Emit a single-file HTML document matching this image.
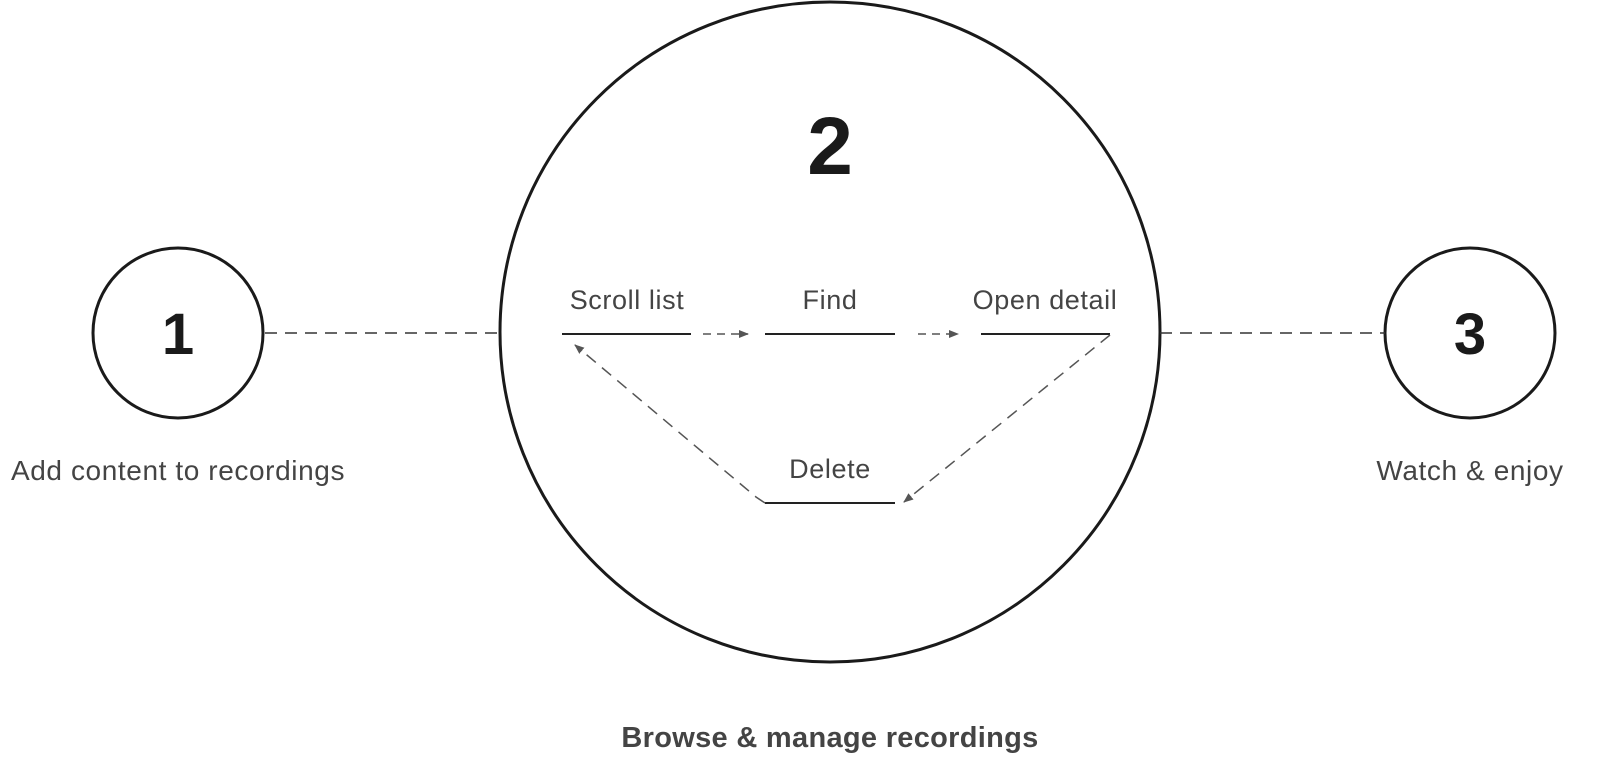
<!DOCTYPE html>
<html><head><style>
body{margin:0;background:#fff;}
svg{display:block;font-family:"Liberation Sans","DejaVu Sans",sans-serif;}
</style></head><body>
<svg width="1600" height="770" viewBox="0 0 1600 770">
<defs><marker id="a" markerWidth="10" markerHeight="8" refX="9" refY="4" orient="auto" markerUnits="userSpaceOnUse"><path d="M0,0 L10,4 L0,8 z" fill="#555"/></marker></defs>
<g fill="none" stroke="#1a1a1a" stroke-width="3">
<circle cx="178" cy="333" r="85"/>
<circle cx="830" cy="332" r="330"/>
<circle cx="1470" cy="333" r="85"/>
</g>
<g stroke="#333" stroke-width="1.5" stroke-dasharray="12,8" fill="none">
<line x1="265" y1="333" x2="500" y2="333"/>
<line x1="1160" y1="333" x2="1385" y2="333"/>
</g>
<g stroke="#222" stroke-width="2">
<line x1="562" y1="334" x2="691" y2="334"/>
<line x1="765" y1="334" x2="895" y2="334"/>
<line x1="981" y1="334" x2="1110" y2="334"/>
<line x1="765" y1="503" x2="895" y2="503"/>
</g>
<g stroke="#555" stroke-width="1.5" stroke-dasharray="12,8" fill="none">
<line x1="703" y1="334" x2="748" y2="334" stroke-dasharray="8,6" marker-end="url(#a)"/>
<line x1="918" y1="334" x2="958" y2="334" stroke-dasharray="8,6" marker-end="url(#a)"/>
<line x1="1110" y1="335" x2="904" y2="502" marker-end="url(#a)"/>
<polyline points="765,503 756,497 575,345" marker-end="url(#a)"/>
</g>
<g fill="#444" font-size="27" letter-spacing="0.6" text-anchor="middle">
<text x="627" y="309">Scroll list</text>
<text x="830" y="309">Find</text>
<text x="1045" y="309">Open detail</text>
<text x="830" y="478">Delete</text>
<text x="178" y="480" font-size="28">Add content to recordings</text>
<text x="1470" y="480" font-size="28">Watch &amp; enjoy</text>
<text x="830" y="747" font-weight="bold" font-size="29" letter-spacing="0.3">Browse &amp; manage recordings</text>
</g>
<g fill="#1a1a1a" font-weight="bold" text-anchor="middle">
<text x="178" y="354" font-size="58">1</text>
<text x="830" y="174" font-size="82">2</text>
<text x="1470" y="354" font-size="58">3</text>
</g>
</svg>
</body></html>
